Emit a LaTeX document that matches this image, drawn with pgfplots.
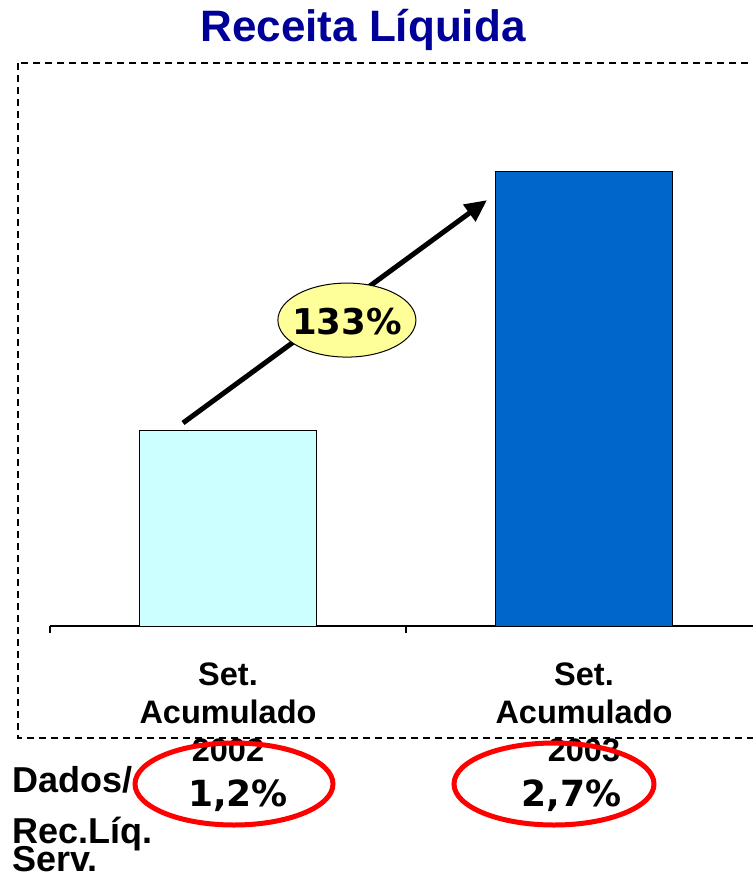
\documentclass[border=0pt]{standalone}
\usepackage{pgfplots}
\pgfplotsset{compat=1.18}
\usepackage{fontspec}
\setmainfont{Liberation Sans}
\newfontfamily\dejavu{DejaVu Sans}
\usetikzlibrary{arrows.meta}
\definecolor{titleblue}{HTML}{000099}
\definecolor{barlight}{HTML}{CCFFFF}
\definecolor{bardark}{HTML}{0066CC}
\definecolor{ovalyellow}{HTML}{FFFF99}
\definecolor{ovalred}{HTML}{FF0000}
\begin{document}
\begin{tikzpicture}
\useasboundingbox (0bp,0bp) rectangle (753bp,-875bp);
% title
\node[anchor=base, inner sep=0, text=titleblue, font=\fontsize{44bp}{50bp}\selectfont\bfseries] at (363bp,-41.7bp) {Receita Líquida};
% dashed frame
\draw[black, line width=1.6bp, dash pattern=on 7bp off 5bp] (18bp,-63bp) rectangle (770bp,-738bp);
\begin{axis}[
  at={(50bp,-626bp)}, anchor=south west,
  scale only axis, width=712bp, height=526bp,
  xmin=-0.5, xmax=1.5, ymin=0, ymax=268.4,
  axis x line=bottom, axis y line=none,
  x axis line style={-, line width=1.2bp, black},
  xtick={0,1},
  xticklabels={{Set.\\Acumulado\\2002},{Set.\\Acumulado\\2003}},
  major tick length=0pt,
  minor xtick={-0.5,0.5,1.5},
  minor tick length=7bp,
  xtick align=outside,
  tick style={black, line width=1.2bp},
  xticklabel style={font=\fontsize{32.5bp}{38bp}\selectfont\bfseries, align=center, anchor=north, yshift=-33bp},
  clip=false,
]
\addplot[ybar, bar width=177bp, bar shift=0pt, fill=barlight, draw=black, line width=1bp] coordinates {(0,100)};
\addplot[ybar, bar width=177bp, bar shift=0pt, fill=bardark, draw=black, line width=1bp] coordinates {(1,232)};
\draw[line width=5bp, -{Triangle[length=22bp,width=20bp]}] (axis cs:-0.1264,103.6) -- (axis cs:0.7275,217.3);
\filldraw[fill=ovalyellow, draw=black, line width=1bp] (axis cs:0.334,156.1) ellipse [x radius=69bp, y radius=37bp];
\node[anchor=base, inner sep=0, font=\dejavu\fontsize{35.5bp}{40bp}\selectfont\bfseries] at (axis cs:0.334,148.5) {133\%};
\end{axis}
% bottom notes
\begin{scope}[font=\fontsize{36bp}{40bp}\selectfont\bfseries]
\node[anchor=base west, inner sep=0] at (12bp,-792bp) {Dados/};
\node[anchor=base west, inner sep=0] at (12bp,-843bp) {Rec.Líq.};
\node[anchor=base west, inner sep=0] at (12bp,-871bp) {Serv.};
\end{scope}
\draw[ovalred, line width=5bp] (234bp,-784bp) ellipse [x radius=99bp, y radius=41bp];
\draw[ovalred, line width=5bp] (554bp,-784bp) ellipse [x radius=100bp, y radius=41bp];
\node[anchor=base, inner sep=0, font=\dejavu\fontsize{36bp}{40bp}\selectfont\bfseries] at (238bp,-806bp) {1,2\%};
\node[anchor=base, inner sep=0, font=\dejavu\fontsize{36bp}{40bp}\selectfont\bfseries] at (571.5bp,-806bp) {2,7\%};
\end{tikzpicture}
\end{document}
